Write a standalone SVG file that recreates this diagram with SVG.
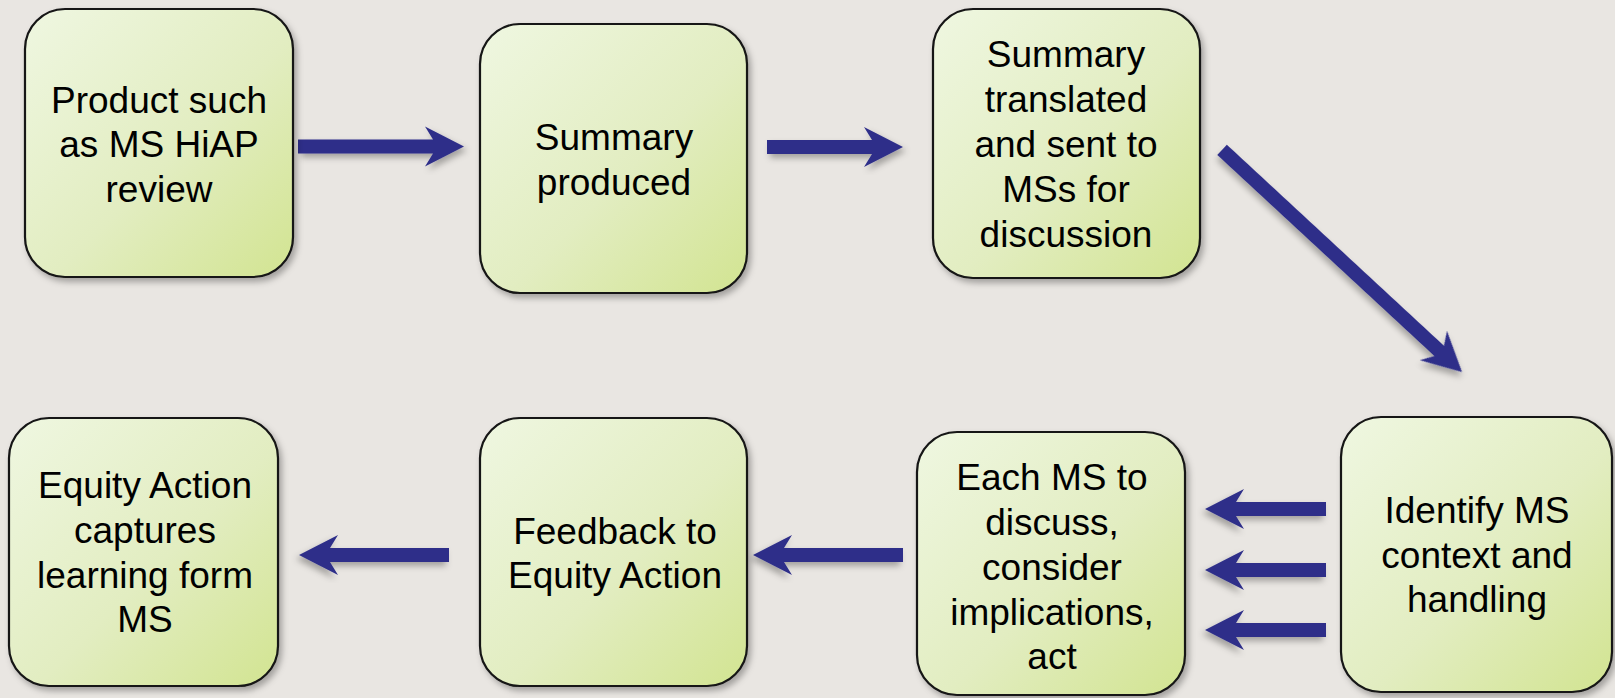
<svg xmlns="http://www.w3.org/2000/svg" width="1615" height="698" viewBox="0 0 1615 698">
  <defs>
    <linearGradient id="boxFill" x1="0" y1="0" x2="1" y2="1">
      <stop offset="0" stop-color="#eff7e1"/>
      <stop offset="0.55" stop-color="#e2edc1"/>
      <stop offset="1" stop-color="#d2e491"/>
    </linearGradient>
    <filter id="shadow" x="-10%" y="-10%" width="130%" height="130%">
      <feDropShadow dx="3" dy="4" stdDeviation="3" flood-color="#000" flood-opacity="0.3"/>
    </filter>
  </defs>
  <style>
    .box { fill: url(#boxFill); stroke: #141414; stroke-width: 2.2; filter: url(#shadow); }
    .lbl { font-family: "Liberation Sans", Arial, sans-serif; font-size: 37px; fill: #000; text-anchor: middle; }
    .arrow { fill: #2e2f89; filter: url(#shadow); }
  </style>
  <rect x="0" y="0" width="1615" height="698" fill="#e9e6e2"/>

  <g id="connectors">
    <path class="arrow" transform="translate(464,146.5)" d="M-166,-7 L-31,-7 L-39,-20 L0,0 L-39,20 L-31,7 L-166,7 Z"/>
    <path class="arrow" transform="translate(903,147)" d="M-136,-7 L-31,-7 L-39,-20 L0,0 L-39,20 L-31,7 L-136,7 Z"/>
    <path class="arrow" transform="translate(1462,372) rotate(42.8)" d="M-327,-7 L-31,-7 L-39,-20 L0,0 L-39,20 L-31,7 L-327,7 Z"/>
    <path class="arrow" transform="translate(1205,509) scale(-1,1)" d="M-121,-7 L-31,-7 L-39,-20 L0,0 L-39,20 L-31,7 L-121,7 Z"/>
    <path class="arrow" transform="translate(1205,570) scale(-1,1)" d="M-121,-7 L-31,-7 L-39,-20 L0,0 L-39,20 L-31,7 L-121,7 Z"/>
    <path class="arrow" transform="translate(1205,630) scale(-1,1)" d="M-121,-7 L-31,-7 L-39,-20 L0,0 L-39,20 L-31,7 L-121,7 Z"/>
    <path class="arrow" transform="translate(753,555) scale(-1,1)" d="M-150,-7 L-31,-7 L-39,-20 L0,0 L-39,20 L-31,7 L-150,7 Z"/>
    <path class="arrow" transform="translate(299,555) scale(-1,1)" d="M-150,-7 L-31,-7 L-39,-20 L0,0 L-39,20 L-31,7 L-150,7 Z"/>
  </g>

  <g id="node-product">
    <rect class="box" x="25" y="9" width="268" height="268" rx="40" ry="40"/>
    <text class="lbl" x="159" y="113">Product such</text>
    <text class="lbl" x="159" y="157">as MS HiAP</text>
    <text class="lbl" x="159" y="202">review</text>
  </g>

  <g id="node-summary">
    <rect class="box" x="480" y="24" width="267" height="269" rx="40" ry="40"/>
    <text class="lbl" x="614" y="150">Summary</text>
    <text class="lbl" x="614" y="195">produced</text>
  </g>

  <g id="node-translated">
    <rect class="box" x="933" y="9" width="267" height="269" rx="40" ry="40"/>
    <text class="lbl" x="1066" y="67">Summary</text>
    <text class="lbl" x="1066" y="112">translated</text>
    <text class="lbl" x="1066" y="157">and sent to</text>
    <text class="lbl" x="1066" y="202">MSs for</text>
    <text class="lbl" x="1066" y="247">discussion</text>
  </g>

  <g id="node-identify">
    <rect class="box" x="1341" y="417" width="271" height="275" rx="40" ry="40"/>
    <text class="lbl" x="1477" y="523">Identify MS</text>
    <text class="lbl" x="1477" y="568">context and</text>
    <text class="lbl" x="1477" y="612">handling</text>
  </g>

  <g id="node-each">
    <rect class="box" x="917" y="432" width="268" height="263" rx="40" ry="40"/>
    <text class="lbl" x="1052" y="490">Each MS to</text>
    <text class="lbl" x="1052" y="535">discuss,</text>
    <text class="lbl" x="1052" y="580">consider</text>
    <text class="lbl" x="1052" y="625">implications,</text>
    <text class="lbl" x="1052" y="669">act</text>
  </g>

  <g id="node-feedback">
    <rect class="box" x="480" y="418" width="267" height="268" rx="40" ry="40"/>
    <text class="lbl" x="615" y="544">Feedback to</text>
    <text class="lbl" x="615" y="588">Equity Action</text>
  </g>

  <g id="node-captures">
    <rect class="box" x="9" y="418" width="269" height="268" rx="40" ry="40"/>
    <text class="lbl" x="145" y="498">Equity Action</text>
    <text class="lbl" x="145" y="543">captures</text>
    <text class="lbl" x="145" y="588">learning form</text>
    <text class="lbl" x="145" y="632">MS</text>
  </g>
</svg>
